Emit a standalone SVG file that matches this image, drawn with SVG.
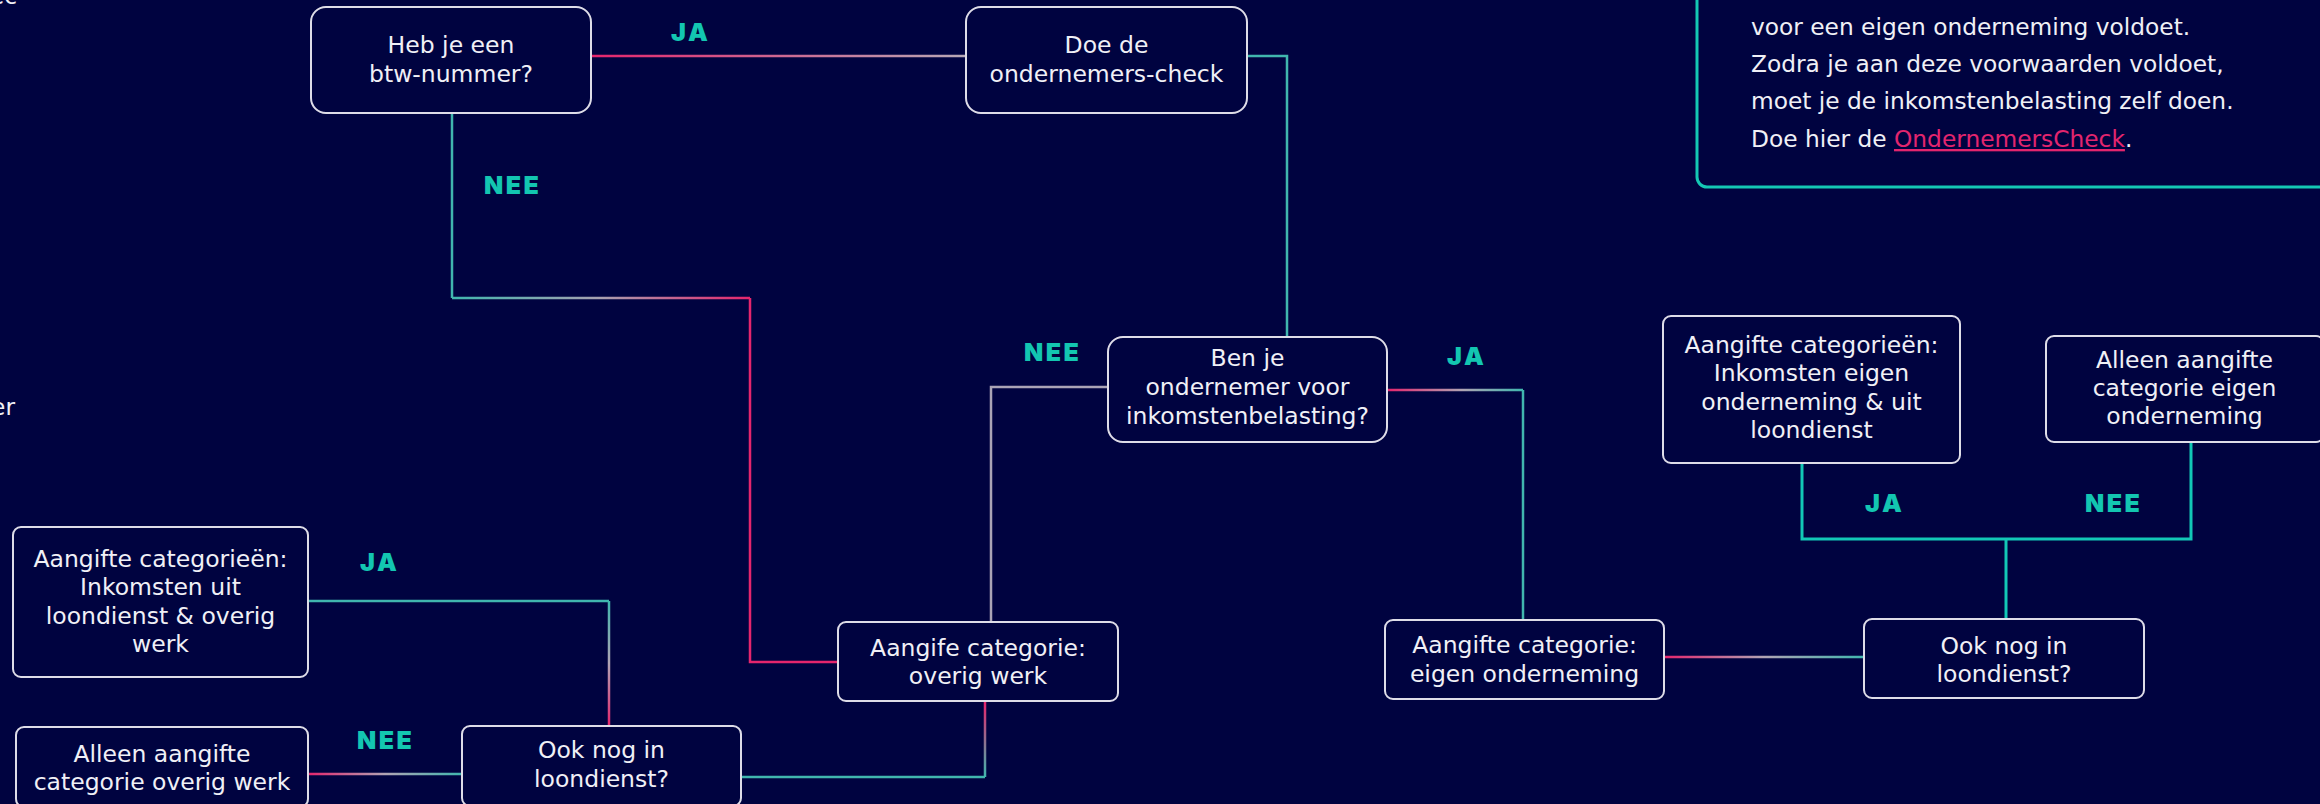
<svg xmlns="http://www.w3.org/2000/svg" width="2320" height="804" viewBox="0 0 2320 804">
<style>
.bg{fill:#000340}
.box{fill:#000340;stroke:#dedde8;stroke-width:2}
.t{font-family:"DejaVu Sans",Inter,sans-serif;font-size:23.5px;fill:#f0f0f6;text-anchor:middle}
.info{font-family:"DejaVu Sans",Inter,sans-serif;font-size:23.3px;fill:#f0f0f6}
.link{fill:#e3256e;text-decoration:underline}
.lbl{font-family:Inter,"DejaVu Sans",sans-serif;font-size:25px;font-weight:900;fill:#13c6b1;letter-spacing:2.5px}
.c{fill:none;stroke-width:2.5}
.teal{stroke:#40b6ae}
.pink{stroke:#e5256d}
.grey{stroke:#aaa4b6}
.bright{stroke:#12c8b6;stroke-width:3}
</style>
<defs>
<linearGradient id="gPinkGrey" gradientUnits="userSpaceOnUse" x1="591" y1="0" x2="966" y2="0"><stop offset="0" stop-color="#e5256d"/><stop offset="1" stop-color="#b6a9b6"/></linearGradient>
<linearGradient id="gTealPinkH" gradientUnits="userSpaceOnUse" x1="452" y1="0" x2="750" y2="0"><stop offset="0" stop-color="#40b6ae"/><stop offset="0.5" stop-color="#a8a0b0"/><stop offset="1" stop-color="#e5256d"/></linearGradient>
<linearGradient id="gL5" gradientUnits="userSpaceOnUse" x1="1387" y1="0" x2="1523" y2="0"><stop offset="0" stop-color="#e5256d"/><stop offset="0.55" stop-color="#b0a4b4"/><stop offset="1" stop-color="#40b6ae"/></linearGradient>
<linearGradient id="gL6" gradientUnits="userSpaceOnUse" x1="0" y1="703" x2="0" y2="777"><stop offset="0" stop-color="#e5256d"/><stop offset="1" stop-color="#40b6ae"/></linearGradient>
<linearGradient id="gL7" gradientUnits="userSpaceOnUse" x1="0" y1="601" x2="0" y2="726"><stop offset="0" stop-color="#40b6ae"/><stop offset="0.5" stop-color="#b0a4b4"/><stop offset="1" stop-color="#e5256d"/></linearGradient>
<linearGradient id="gL8" gradientUnits="userSpaceOnUse" x1="308" y1="0" x2="462" y2="0"><stop offset="0" stop-color="#e5256d"/><stop offset="0.5" stop-color="#b0a4b4"/><stop offset="1" stop-color="#40b6ae"/></linearGradient>
<linearGradient id="gL9" gradientUnits="userSpaceOnUse" x1="1664" y1="0" x2="1864" y2="0"><stop offset="0" stop-color="#e5256d"/><stop offset="0.5" stop-color="#b0a4b4"/><stop offset="1" stop-color="#40b6ae"/></linearGradient>
</defs>
<rect class="bg" x="0" y="0" width="2320" height="804"/>

<g id="fragments">
<text class="info" x="17" y="4" text-anchor="end">ec</text>
<text class="info" x="15" y="415" text-anchor="end">er</text>
</g>

<g id="info-box">
<rect x="1697" y="-60" width="700" height="247" rx="10" fill="none" stroke="#14c8b4" stroke-width="3"/>
<text class="info" x="1751" y="35">voor een eigen onderneming voldoet.</text>
<text class="info" x="1751" y="72">Zodra je aan deze voorwaarden voldoet,</text>
<text class="info" x="1751" y="109">moet je de inkomstenbelasting zelf doen.</text>
<text class="info" x="1751" y="147">Doe hier de <tspan class="link">OndernemersCheck</tspan>.</text>
</g>

<g id="connectors">
<path class="c" stroke="url(#gPinkGrey)" d="M591 56H966"/>
<path class="c teal" d="M1247 56H1287V337"/>
<path class="c teal" d="M452 113V298"/>
<path class="c" stroke="url(#gTealPinkH)" d="M452 298H750"/>
<path class="c pink" d="M750 298V662H838"/>
<path class="c grey" d="M1108 387H991V622"/>
<path class="c" stroke="url(#gL5)" d="M1387 390H1523"/>
<path class="c teal" d="M1523 390V620"/>
<path class="c" stroke="url(#gL6)" d="M985 701V777"/>
<path class="c teal" d="M985 777H741"/>
<path class="c teal" d="M308 601H609"/>
<path class="c" stroke="url(#gL7)" d="M609 601V726"/>
<path class="c" stroke="url(#gL8)" d="M308 774H462"/>
<path class="c" stroke="url(#gL9)" d="M1664 657H1864"/>
<path class="c bright" d="M1802 463V539H2191V442M2006 539V619"/>
</g>

<g id="labels">
<text class="lbl" x="671" y="41">JA</text>
<text class="lbl" x="484" y="194">NEE</text>
<text class="lbl" x="1024" y="361">NEE</text>
<text class="lbl" x="1447" y="365">JA</text>
<text class="lbl" x="360" y="571">JA</text>
<text class="lbl" x="357" y="749">NEE</text>
<text class="lbl" x="1865" y="512">JA</text>
<text class="lbl" x="2085" y="512">NEE</text>
</g>

<g id="n-btw">
<rect class="box" x="311" y="7" width="280" height="106" rx="15"/>
<text class="t" x="451" y="53">Heb je een</text>
<text class="t" x="451" y="82">btw-nummer?</text>
</g>
<g id="n-check">
<rect class="box" x="966" y="7" width="281" height="106" rx="15"/>
<text class="t" x="1106.5" y="53">Doe de</text>
<text class="t" x="1106.5" y="82">ondernemers-check</text>
</g>
<g id="n-ondernemer">
<rect class="box" x="1108" y="337" width="279" height="105" rx="15"/>
<text class="t" x="1247.5" y="366">Ben je</text>
<text class="t" x="1247.5" y="395">ondernemer voor</text>
<text class="t" x="1247.5" y="424">inkomstenbelasting?</text>
</g>
<g id="n-overig">
<rect class="box" x="838" y="622" width="280" height="79" rx="8"/>
<text class="t" x="978" y="656">Aangife categorie:</text>
<text class="t" x="978" y="684">overig werk</text>
</g>
<g id="n-eigen">
<rect class="box" x="1385" y="620" width="279" height="79" rx="8"/>
<text class="t" x="1524.5" y="653">Aangifte categorie:</text>
<text class="t" x="1524.5" y="682">eigen onderneming</text>
</g>
<g id="n-loon-right">
<rect class="box" x="1864" y="619" width="280" height="79" rx="8"/>
<text class="t" x="2004" y="654">Ook nog in</text>
<text class="t" x="2004" y="682">loondienst?</text>
</g>
<g id="n-eigen-loon">
<rect class="box" x="1663" y="316" width="297" height="147" rx="8"/>
<text class="t" x="1811.5" y="353">Aangifte categorieën:</text>
<text class="t" x="1811.5" y="381">Inkomsten eigen</text>
<text class="t" x="1811.5" y="410">onderneming &amp; uit</text>
<text class="t" x="1811.5" y="438">loondienst</text>
</g>
<g id="n-alleen-eigen">
<rect class="box" x="2046" y="336" width="278" height="106" rx="8"/>
<text class="t" x="2184.5" y="368">Alleen aangifte</text>
<text class="t" x="2184.5" y="396">categorie eigen</text>
<text class="t" x="2184.5" y="424">onderneming</text>
</g>
<g id="n-loon-overig">
<rect class="box" x="13" y="527" width="295" height="150" rx="8"/>
<text class="t" x="160.5" y="567">Aangifte categorieën:</text>
<text class="t" x="160.5" y="595">Inkomsten uit</text>
<text class="t" x="160.5" y="624">loondienst &amp; overig</text>
<text class="t" x="160.5" y="652">werk</text>
</g>
<g id="n-alleen-overig">
<rect class="box" x="16" y="727" width="292" height="80" rx="8"/>
<text class="t" x="162" y="762">Alleen aangifte</text>
<text class="t" x="162" y="790">categorie overig werk</text>
</g>
<g id="n-loon-left">
<rect class="box" x="462" y="726" width="279" height="80" rx="8"/>
<text class="t" x="601.5" y="758">Ook nog in</text>
<text class="t" x="601.5" y="787">loondienst?</text>
</g>
</svg>
